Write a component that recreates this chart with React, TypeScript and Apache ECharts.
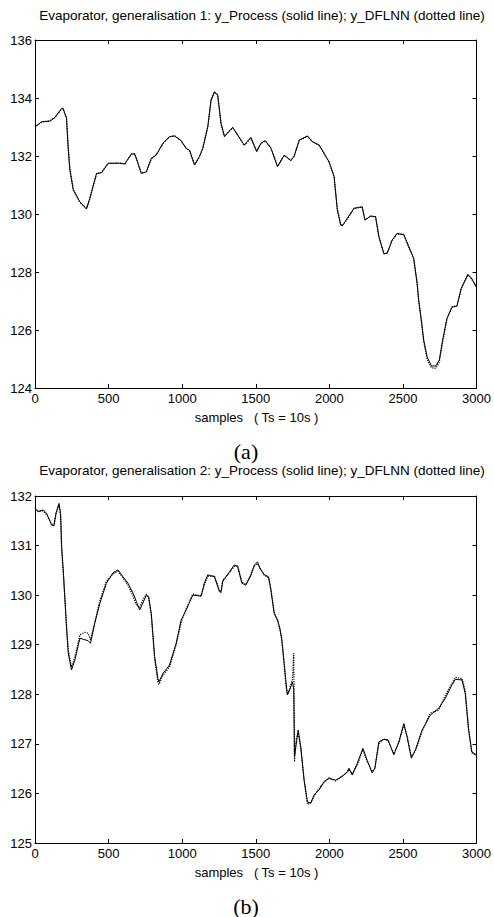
import React, { useEffect, useRef } from "react";
import * as echarts from "echarts";

// ---- Chart (a): generalisation 1 ----
const samplesA = [0, 45, 102, 135, 181, 190, 214, 226, 237, 260, 305, 350, 372, 418, 452, 497, 576, 610, 655, 677, 690, 722, 756, 790, 824, 869, 914, 948, 993, 1027, 1050, 1084, 1117, 1140, 1174, 1196, 1219, 1241, 1264, 1287, 1343, 1377, 1422, 1467, 1506, 1535, 1564, 1603, 1648, 1693, 1738, 1761, 1795, 1851, 1885, 1930, 1964, 1998, 2032, 2054, 2077, 2088, 2122, 2167, 2223, 2242, 2280, 2314, 2336, 2370, 2393, 2426, 2460, 2506, 2540, 2573, 2596, 2607, 2625, 2641, 2664, 2693, 2724, 2747, 2770, 2799, 2833, 2867, 2896, 2941, 2964, 2998];
const processA = [133.0, 133.18, 133.2, 133.33, 133.64, 133.65, 133.3, 132.2, 131.5, 130.83, 130.42, 130.17, 130.54, 131.4, 131.42, 131.75, 131.75, 131.73, 132.07, 132.07, 131.9, 131.4, 131.45, 131.92, 132.03, 132.44, 132.67, 132.69, 132.53, 132.26, 132.2, 131.69, 131.98, 132.26, 133.01, 133.93, 134.22, 134.1, 133.13, 132.67, 132.99, 132.72, 132.38, 132.64, 132.15, 132.44, 132.53, 132.27, 131.63, 132.03, 131.84, 132.0, 132.55, 132.69, 132.49, 132.38, 132.09, 131.8, 131.29, 130.14, 129.62, 129.59, 129.85, 130.2, 130.25, 129.79, 129.93, 129.91, 129.22, 128.64, 128.64, 129.1, 129.33, 129.28, 128.87, 128.47, 127.61, 127.03, 126.34, 125.66, 125.08, 124.76, 124.76, 124.97, 125.66, 126.4, 126.78, 126.83, 127.44, 127.9, 127.8, 127.49];
const dflnnA = [133.0, 133.17, 133.22, 133.32, 133.62, 133.64, 133.32, 132.3, 131.6, 130.85, 130.4, 130.2, 130.5, 131.38, 131.44, 131.74, 131.76, 131.72, 132.06, 132.08, 131.88, 131.42, 131.44, 131.9, 132.05, 132.42, 132.66, 132.7, 132.52, 132.27, 132.18, 131.7, 131.96, 132.28, 133.0, 133.9, 134.2, 134.12, 133.1, 132.68, 132.97, 132.73, 132.36, 132.62, 132.17, 132.43, 132.52, 132.28, 131.65, 132.02, 131.85, 131.99, 132.53, 132.68, 132.5, 132.37, 132.1, 131.78, 131.3, 130.2, 129.64, 129.6, 129.83, 130.18, 130.24, 129.8, 129.92, 129.9, 129.25, 128.62, 128.66, 129.08, 129.32, 129.3, 128.85, 128.45, 127.65, 127.0, 126.3, 125.6, 125.0, 124.7, 124.68, 124.9, 125.6, 126.38, 126.8, 126.84, 127.42, 127.92, 127.78, 127.5];

// ---- Chart (b): generalisation 2 ----
const samplesB = [0, 22, 56, 79, 113, 129, 142, 163, 174, 181, 192, 215, 226, 248, 271, 305, 339, 361, 377, 406, 440, 485, 530, 564, 598, 632, 666, 689, 711, 733, 756, 772, 790, 813, 835, 842, 869, 914, 959, 993, 1027, 1072, 1129, 1151, 1174, 1219, 1253, 1264, 1275, 1321, 1354, 1377, 1406, 1433, 1467, 1490, 1512, 1528, 1558, 1587, 1603, 1625, 1648, 1664, 1677, 1693, 1704, 1715, 1731, 1749, 1758, 1763, 1775, 1788, 1806, 1828, 1851, 1874, 1896, 1930, 1964, 1998, 2043, 2088, 2122, 2133, 2156, 2190, 2228, 2257, 2291, 2309, 2336, 2370, 2399, 2438, 2472, 2506, 2528, 2557, 2585, 2630, 2686, 2743, 2788, 2833, 2856, 2901, 2923, 2946, 2968, 2998];
const processB = [131.75, 131.68, 131.72, 131.65, 131.41, 131.41, 131.65, 131.85, 131.65, 130.98, 130.51, 129.3, 128.83, 128.49, 128.69, 129.13, 129.1, 129.08, 129.03, 129.43, 129.83, 130.24, 130.45, 130.51, 130.37, 130.24, 130.04, 129.87, 129.7, 129.84, 130.0, 129.97, 129.63, 128.76, 128.32, 128.25, 128.42, 128.59, 129.03, 129.5, 129.7, 130.0, 129.98, 130.24, 130.41, 130.37, 130.07, 130.07, 130.27, 130.47, 130.61, 130.57, 130.24, 130.2, 130.41, 130.61, 130.67, 130.54, 130.41, 130.37, 130.1, 129.63, 129.5, 129.33, 129.09, 128.62, 128.29, 127.99, 128.09, 128.25, 128.1, 126.75, 127.0, 127.28, 126.94, 126.27, 125.83, 125.8, 125.97, 126.07, 126.24, 126.3, 126.27, 126.34, 126.44, 126.51, 126.37, 126.61, 126.91, 126.67, 126.41, 126.51, 127.04, 127.09, 127.08, 126.78, 127.04, 127.41, 127.14, 126.71, 126.88, 127.28, 127.58, 127.72, 127.92, 128.19, 128.3, 128.29, 128.02, 127.28, 126.84, 126.78];
const dflnnB = [131.72, 131.7, 131.7, 131.62, 131.44, 131.4, 131.62, 131.82, 131.6, 130.9, 130.45, 129.35, 128.9, 128.55, 128.75, 129.2, 129.25, 129.23, 129.1, 129.45, 129.88, 130.28, 130.43, 130.48, 130.35, 130.2, 129.98, 129.8, 129.75, 129.9, 130.02, 129.95, 129.6, 128.7, 128.25, 128.2, 128.38, 128.55, 129.0, 129.45, 129.72, 130.02, 129.99, 130.22, 130.38, 130.39, 130.1, 130.05, 130.3, 130.45, 130.58, 130.6, 130.26, 130.22, 130.4, 130.58, 130.64, 130.56, 130.4, 130.35, 130.12, 129.66, 129.48, 129.3, 129.12, 128.6, 128.2, 128.0, 128.12, 128.3, 128.83, 126.64, 127.1, 127.22, 126.9, 126.3, 125.78, 125.82, 125.95, 126.1, 126.22, 126.32, 126.25, 126.36, 126.42, 126.48, 126.4, 126.58, 126.88, 126.64, 126.44, 126.5, 127.0, 127.1, 127.06, 126.8, 127.02, 127.38, 127.16, 126.74, 126.86, 127.25, 127.62, 127.68, 127.98, 128.22, 128.34, 128.32, 128.08, 127.3, 126.82, 126.76];

const xMin = 0, xMax = 3000, xStep = 500;
const yRangeA = { min: 124, max: 136, step: 2 };
const yRangeB = { min: 125, max: 132, step: 1 };

const title1 = "Evaporator, generalisation 1: y_Process (solid line); y_DFLNN (dotted line)";
const title2 = "Evaporator, generalisation 2: y_Process (solid line); y_DFLNN (dotted line)";
const xLabel = "samples   ( Ts = 10s )";

const FONT = "Liberation Sans";
const SERIF = "Liberation Serif";

function pairs(xs: number[], ys: number[]) {
  return xs.map((x, i) => [x, ys[i]]);
}

export default function App() {
  const ref = useRef<HTMLDivElement>(null);
  useEffect(() => {
    if (!ref.current) return;
    const chart = echarts.init(ref.current, null, { renderer: "svg" });
    const axisLine = { show: true, onZero: false, lineStyle: { color: "#000", width: 1 } };
    const axisTick = { show: true, inside: true, length: 4, lineStyle: { color: "#000", width: 1 } };
    const label = {
      color: "#000", fontSize: 13, fontFamily: FONT, margin: 4,
      showMinLabel: true, showMaxLabel: true,
      formatter: (v: number) => String(v),
    };
    const mkX = (gi: number, pos: "bottom" | "top") => ({
      type: "value", gridIndex: gi, position: pos, min: xMin, max: xMax, interval: xStep,
      axisLine, axisTick, splitLine: { show: false },
      axisLabel: pos === "bottom" ? label : { show: false },
    });
    const mkY = (gi: number, pos: "left" | "right", r: { min: number; max: number; step: number }) => ({
      type: "value", gridIndex: gi, position: pos, min: r.min, max: r.max, interval: r.step,
      axisLine, axisTick, splitLine: { show: false },
      axisLabel: pos === "left" ? { ...label, margin: 3 } : { show: false },
    });
    const txt = (x: number, y: number, text: string, size: number, family = FONT) => ({
      type: "text", x, y,
      style: { text, fontSize: size, fontFamily: family, fill: "#000", align: "center", verticalAlign: "middle" },
    });
    chart.setOption({
      animation: false,
      backgroundColor: "#fff",
      grid: [
        { left: 35, top: 40, width: 443, height: 348 },
        { left: 35, top: 496, width: 443, height: 347 },
      ],
      xAxis: [mkX(0, "bottom"), mkX(0, "top"), mkX(1, "bottom"), mkX(1, "top")],
      yAxis: [mkY(0, "left", yRangeA), mkY(0, "right", yRangeA), mkY(1, "left", yRangeB), mkY(1, "right", yRangeB)],
      series: [
        { type: "line", name: "y_Process", xAxisIndex: 0, yAxisIndex: 0, showSymbol: false, data: pairs(samplesA, processA), lineStyle: { color: "#000", width: 1 } },
        { type: "line", name: "y_DFLNN", xAxisIndex: 0, yAxisIndex: 0, showSymbol: false, data: pairs(samplesA, dflnnA), lineStyle: { color: "#000", width: 1.2, type: "dotted" } },
        { type: "line", name: "y_Process", xAxisIndex: 2, yAxisIndex: 2, showSymbol: false, data: pairs(samplesB, processB), lineStyle: { color: "#000", width: 1 } },
        { type: "line", name: "y_DFLNN", xAxisIndex: 2, yAxisIndex: 2, showSymbol: false, data: pairs(samplesB, dflnnB), lineStyle: { color: "#000", width: 1.2, type: "dotted" } },
      ],
      graphic: [
        txt(262, 15, title1, 13.5),
        txt(256.5, 417, xLabel, 13),
        txt(246, 451, "(a)", 22, SERIF),
        txt(262, 470, title2, 13.5),
        txt(256.5, 872, xLabel, 13),
        txt(246, 906, "(b)", 22, SERIF),
      ],
    });
    return () => chart.dispose();
  }, []);
  return <div ref={ref} style={{ position: "absolute", left: 0, top: 0, width: 494, height: 917 }} />;
}
